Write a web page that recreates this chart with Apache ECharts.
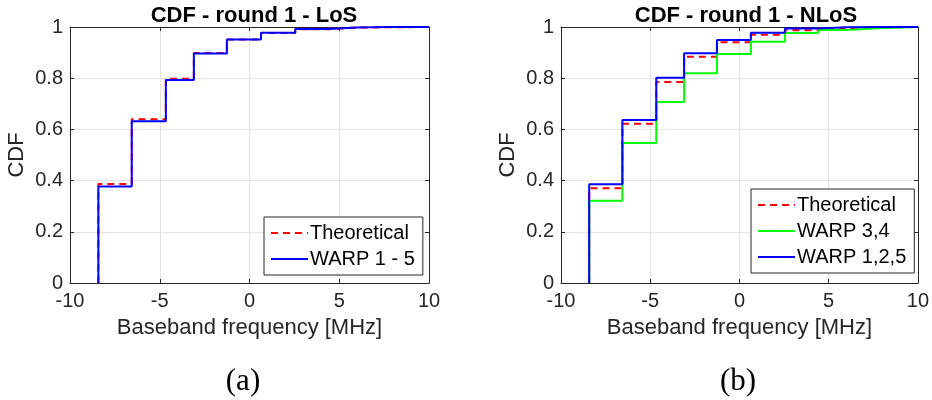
<!DOCTYPE html>
<html>
<head>
<meta charset="utf-8">
<script src="https://cdn.jsdelivr.net/npm/echarts@6/dist/echarts.min.js"></script>
<style>
  html, body { margin: 0; padding: 0; background: #fff; }
  #chart { width: 932px; height: 400px; }
</style>
</head>
<body>
<div id="chart"></div>
<script>
// step edges (baseband frequency, MHz) shared by every CDF curve
let edges = [-8.42, -6.56, -4.66, -3.1, -1.26, 0.64, 2.55, 4.42, 5.98, 7.8]
let xTicks = [-10, -5, 0, 5, 10]
let yTicks = [0, 0.2, 0.4, 0.6, 0.8, 1]

// (a) LoS
let losTheo = [0.387, 0.640, 0.798, 0.898, 0.951, 0.977, 0.991, 0.998, 0.999, 1]
let losWarp15 = [0.377, 0.632, 0.793, 0.896, 0.951, 0.978, 0.992, 0.998, 1, 1]
// (b) NLoS
let nlosTheo = [0.370, 0.622, 0.785, 0.884, 0.940, 0.970, 0.987, 0.995, 0.999, 1]
let nlosWarp34 = [0.321, 0.547, 0.707, 0.819, 0.895, 0.942, 0.977, 0.988, 0.995, 1]
let nlosWarp125 = [0.386, 0.637, 0.802, 0.897, 0.949, 0.978, 0.994, 0.999, 1, 1]

let font = "'Liberation Sans', Arial, Helvetica, sans-serif"
let ink = '#262626'

function stepData(vals) {
  let d = [[edges[0], 0]]
  vals.forEach(function(v, i) {
    d.push([edges[i], v])
  })
  d.push([10, vals[vals.length - 1]])
  return d
}

function line(name, vals, color, dashed, idx) {
  return {
    name: name,
    type: 'line',
    step: 'end',
    xAxisIndex: idx * 2,
    yAxisIndex: idx * 2,
    data: stepData(vals),
    symbol: 'none',
    animation: false,
    lineStyle: { color: color, width: 2, type: dashed ? [7, 5] : 'solid' },
    itemStyle: { color: color }
  }
}

let grids = [
  { left: 70, top: 27, width: 359, height: 256 },
  { left: 561, top: 27, width: 360, height: 256 }
]

let xAxes = []
let yAxes = []
grids.forEach(function(g, i) {
  xAxes.push({
    type: 'value', gridIndex: i, min: xTicks[0], max: xTicks[xTicks.length - 1], interval: 5,
    name: 'Baseband frequency [MHz]', nameLocation: 'middle', nameGap: 34,
    nameTextStyle: { fontFamily: font, fontSize: 22, color: ink },
    axisLine: { onZero: false, lineStyle: { color: ink } },
    axisTick: { inside: true, length: 4, lineStyle: { color: ink } },
    axisLabel: { fontFamily: font, fontSize: 20, color: ink, margin: 8 },
    splitLine: { show: true, lineStyle: { color: '#e3e3e3' } }
  })
  xAxes.push({
    type: 'value', gridIndex: i, position: 'top', min: -10, max: 10, interval: 5,
    axisLine: { onZero: false, lineStyle: { color: ink } },
    axisTick: { inside: true, length: 4, lineStyle: { color: ink } },
    axisLabel: { show: false }, splitLine: { show: false }
  })
  yAxes.push({
    type: 'value', gridIndex: i, min: yTicks[0], max: yTicks[yTicks.length - 1], interval: 0.2,
    name: 'CDF', nameLocation: 'middle', nameGap: 42,
    nameTextStyle: { fontFamily: font, fontSize: 22, color: ink },
    axisLine: { show: true, onZero: false, lineStyle: { color: ink } },
    axisTick: { show: true, inside: true, length: 4, lineStyle: { color: ink } },
    axisLabel: { fontFamily: font, fontSize: 20, color: ink, margin: 7,
      formatter: function(v) { return String(Math.round(v * 10) / 10) } },
    splitLine: { show: true, lineStyle: { color: '#e3e3e3' } }
  })
  yAxes.push({
    type: 'value', gridIndex: i, position: 'right', min: 0, max: 1, interval: 0.2,
    axisLine: { show: true, onZero: false, lineStyle: { color: ink } },
    axisTick: { show: true, inside: true, length: 4, lineStyle: { color: ink } },
    axisLabel: { show: false }, splitLine: { show: false }
  })
})

let legendBase = {
  orient: 'vertical',
  backgroundColor: '#fff',
  borderColor: ink,
  borderWidth: 1,
  borderRadius: 0,
  padding: [6, 8, 6, 6],
  itemWidth: 37,
  itemHeight: 20,
  itemGap: 6,
  itemStyle: { opacity: 0 },
  textStyle: { fontFamily: font, fontSize: 20, color: '#000', padding: [0, 0, 0, -3] },
  selectedMode: false
}

let chart = echarts.init(document.getElementById('chart'))
chart.setOption({
  backgroundColor: '#fff',
  title: [
    { text: 'CDF - round 1 - LoS', left: 249, top: 0, textAlign: 'center',
      textStyle: { fontFamily: font, fontSize: 22, fontWeight: 'bold', color: '#000' } },
    { text: 'CDF - round 1 - NLoS', left: 741, top: 0, textAlign: 'center',
      textStyle: { fontFamily: font, fontSize: 22, fontWeight: 'bold', color: '#000' } },
    { text: '(a)', left: 238, top: 361, textAlign: 'center',
      textStyle: { fontFamily: "'Liberation Serif', 'DejaVu Serif', serif", fontSize: 31, fontWeight: 'normal', color: '#000' } },
    { text: '(b)', left: 733, top: 361, textAlign: 'center',
      textStyle: { fontFamily: "'Liberation Serif', 'DejaVu Serif', serif", fontSize: 31, fontWeight: 'normal', color: '#000' } }
  ],
  grid: grids,
  xAxis: xAxes,
  yAxis: yAxes,
  legend: [
    Object.assign({}, legendBase, { left: 264, top: 217, data: ['Theoretical', 'WARP 1 - 5'] }),
    Object.assign({}, legendBase, { left: 751, top: 189, data: ['Theoretical', 'WARP 3,4', 'WARP 1,2,5'] })
  ],
  series: [
    line('Theoretical', losTheo, '#ff0000', true, 0),
    line('WARP 1 - 5', losWarp15, '#0000ff', false, 0),
    line('Theoretical', nlosTheo, '#ff0000', true, 1),
    line('WARP 3,4', nlosWarp34, '#00ff00', false, 1),
    line('WARP 1,2,5', nlosWarp125, '#0000ff', false, 1)
  ]
})
</script>
</body>
</html>
